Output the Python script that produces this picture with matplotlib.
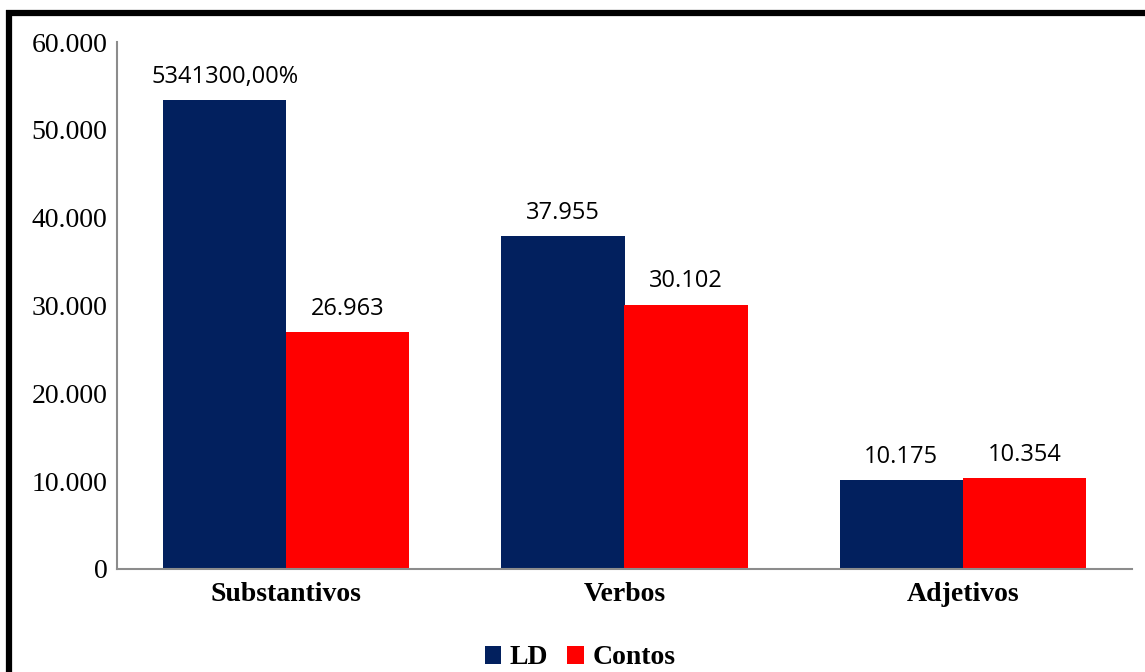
import matplotlib
matplotlib.use("Agg")
import matplotlib.pyplot as plt
from matplotlib.lines import Line2D
from matplotlib.patches import Patch
import numpy as np

categories = ["Substantivos", "Verbos", "Adjetivos"]
ld_values = [53413, 37955, 10175]
contos_values = [26963, 30102, 10354]
series_names = ["LD", "Contos"]
y_ticks = [0, 10000, 20000, 30000, 40000, 50000, 60000]

NAVY = "#02205E"
RED = "#FF0000"
AXIS_GRAY = "#8C8C8C"


def thousands(v):
    return f"{v:,.0f}".replace(",", ".")


def percent_label(v):
    s = f"{v * 100:,.2f}"
    return s.replace(",", "X").replace(".", ",").replace("X", "") + "%"


fig = plt.figure(figsize=(11.45, 6.72), dpi=100)
ax = fig.add_axes([117 / 1145, 1 - 569 / 672, (1132 - 117) / 1145, (569 - 42) / 672])

x = np.arange(len(categories))
w = 0.364
b1 = ax.bar(x - w / 2, ld_values, w, color=NAVY, label=series_names[0])
b2 = ax.bar(x + w / 2, contos_values, w, color=RED, label=series_names[1])

ax.set_xlim(-0.5, len(categories) - 0.5)
ax.set_ylim(0, 60000)
ax.set_yticks(y_ticks)
ax.set_yticklabels([thousands(t) for t in y_ticks], family="Liberation Serif", fontsize=20)
ax.set_xticks(x)
ax.set_xticklabels(categories, family="Liberation Serif", fontweight="bold", fontsize=20)
ax.tick_params(axis="y", length=0, pad=7)
ax.tick_params(axis="x", length=0, pad=9.5)

for side in ["top", "right"]:
    ax.spines[side].set_visible(False)
for side in ["left", "bottom"]:
    ax.spines[side].set_color(AXIS_GRAY)
    ax.spines[side].set_linewidth(1.5)

label_font = dict(family="Open Sans", fontsize=17, color="#000000")
for i, (rect, v) in enumerate(zip(b1, ld_values)):
    txt = percent_label(v) if i == 0 else thousands(v)
    ax.annotate(txt, (rect.get_x() + rect.get_width() / 2, v), xytext=(0, 8),
                textcoords="offset points", ha="center", va="bottom", **label_font)
for rect, v in zip(b2, contos_values):
    ax.annotate(thousands(v), (rect.get_x() + rect.get_width() / 2, v), xytext=(0, 8),
                textcoords="offset points", ha="center", va="bottom", **label_font)

handles = [Patch(facecolor=NAVY), Patch(facecolor=RED)]
fig.legend(handles, series_names, loc="center", bbox_to_anchor=(580 / 1145, 1 - 658 / 672),
           ncol=2, frameon=False, handlelength=0.6, handleheight=0.6, handletextpad=0.3,
           columnspacing=0.7, borderpad=0.2,
           prop=dict(family="Liberation Serif", weight="bold", size=20))

# frame around the figure
fig.add_artist(Line2D([6 / 1145, 1.0], [1 - 13 / 672, 1 - 13 / 672], color="black",
                      linewidth=4.5, transform=fig.transFigure, solid_capstyle="butt"))
fig.add_artist(Line2D([9 / 1145, 9 / 1145], [1 - 10 / 672, 0.0], color="black",
                      linewidth=4.5, transform=fig.transFigure, solid_capstyle="butt"))

fig.savefig("out.png", dpi=100, facecolor="white")
